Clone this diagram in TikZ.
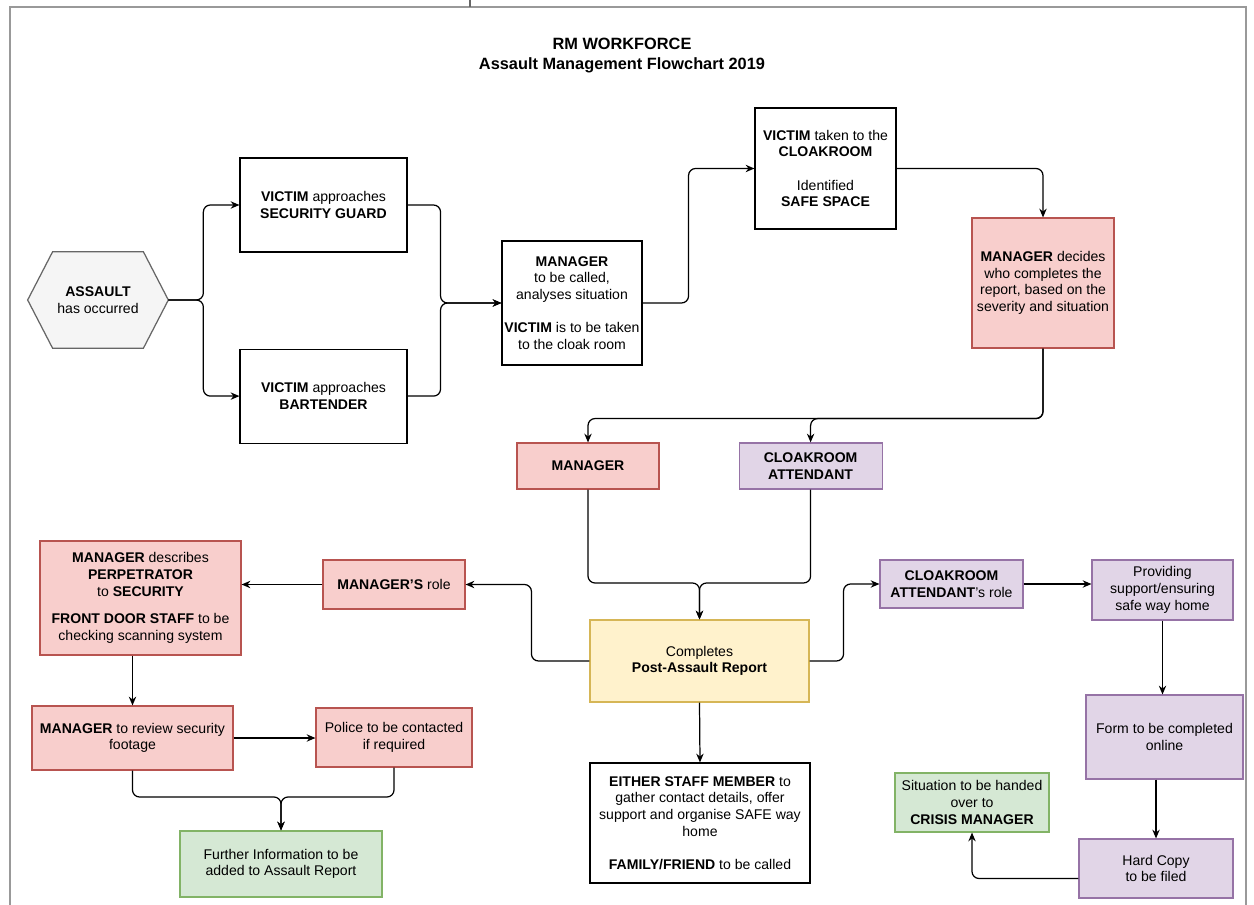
\documentclass[tikz,border=0pt]{standalone}
\usepackage{fontspec}
\setmainfont{Liberation Sans}
\usepackage{tikz}
\usetikzlibrary{arrows.meta, positioning, backgrounds}

\definecolor{pinkfill}{HTML}{F8CECC}
\definecolor{pinkline}{HTML}{B85450}
\definecolor{lilacfill}{HTML}{E1D5E7}
\definecolor{lilacline}{HTML}{9673A6}
\definecolor{yellowfill}{HTML}{FFF2CC}
\definecolor{yellowline}{HTML}{D6B656}
\definecolor{greenfill}{HTML}{D5E8D4}
\definecolor{greenline}{HTML}{82B366}
\definecolor{hexfill}{HTML}{F5F5F5}
\definecolor{hexline}{HTML}{666666}

\begin{document}
\begin{tikzpicture}[x=0.02cm, y=-0.02cm, >={Stealth[length=5pt,width=4.2pt]},
box/.style={
rectangle,
draw,
line width=0.65pt,
align=center,
inner xsep=1pt,
inner ysep=2pt,
font=\fontsize{8}{9.5}\selectfont
},
wh/.style 2 args={minimum width=#1cm, minimum height=#2cm},
pink box/.style={box, fill=pinkfill, draw=pinkline},
lilac box/.style={box, fill=lilacfill, draw=lilacline},
yellow box/.style={box, fill=yellowfill, draw=yellowline},
green box/.style={box, fill=greenfill, draw=greenline},
hex text/.style={align=center, minimum width=2.8cm, minimum height=1.92cm,
                font=\fontsize{8}{9.5}\selectfont},
link/.style={->, line width=0.7pt, rounded corners=4pt}
                ]

\useasboundingbox (0,0) rectangle (1254,905);

\node[font=\bfseries\fontsize{9.3}{11.4}\selectfont, align=center] (title) at (622,56) {RM WORKFORCE\\Assault Management Flowchart 2019};

\node[hex text] (assault) at (98,300) {\textbf{ASSAULT}\\has occurred};

\node[box, wh={3.34}{1.88}] (guard) at (323.5,205) {\textbf{VICTIM} approaches\\\textbf{SECURITY GUARD}};
\node[box, wh={3.34}{1.88}] (bartender) [below=1.92cm of guard] {\textbf{VICTIM} approaches\\\textbf{BARTENDER}};

\node[box, wh={2.8}{2.48}] (call) at (572,303) {\textbf{MANAGER}\\to be called,\\analyses situation\\[9.5pt]\textbf{VICTIM} is to be taken\\to the cloak room};
\node[box, wh={2.82}{2.42}] (cloak) at (825.5,168.5) {\textbf{VICTIM} taken to the\\\textbf{CLOAKROOM}\\[9.5pt]Identified\\\textbf{SAFE SPACE}};
\node[pink box, wh={2.84}{2.6}] (decides) at (1043,283) {\textbf{MANAGER} decides\\who completes the\\report, based on the\\severity and situation};

\node[pink box, wh={2.84}{0.92}] (mgr) at (588,466) {\textbf{MANAGER}};
\node[lilac box, wh={2.86}{0.92}] (attend) [right=1.58cm of mgr] {\textbf{CLOAKROOM}\\\textbf{ATTENDANT}};

\node[yellow box, wh={4.38}{1.64}] (report) at (699.5,661) {Completes\\\textbf{Post-Assault Report}};
\node[box, wh={4.4}{2.4}] (staff) at (700,823) {\textbf{EITHER STAFF MEMBER} to\\gather contact details, offer\\support and organise SAFE way\\home\\[9.5pt]\textbf{FAMILY/FRIEND} to be called};

\node[pink box, wh={2.84}{0.98}] (role) at (394,584.5) {\textbf{MANAGER'S} role};
\node[pink box, wh={4.02}{2.28}] (desc) at (140.5,598) {\textbf{MANAGER} describes\\\textbf{PERPETRATOR}\\to \textbf{SECURITY}\\[6pt]\textbf{FRONT DOOR STAFF} to be\\checking scanning system};
\node[pink box, wh={4.02}{1.28}] (review) at (132.5,738) {\textbf{MANAGER} to review security\\footage};
\node[pink box, wh={3.12}{1.18}] (police) at (394,737.5) {Police to be contacted\\if required};
\node[green box, wh={4.04}{1.32}] (further) at (281,864) {Further Information to be\\added to Assault Report};

\node[lilac box, wh={2.86}{0.96}] (attrole) at (951.5,584) {\textbf{CLOAKROOM}\\\textbf{ATTENDANT}'s role};
\node[lilac box, wh={2.82}{1.2}] (prov) at (1162.5,590) {Providing\\support/ensuring\\safe way home};
\node[lilac box, wh={3.14}{1.68}] (form) at (1164.5,737) {Form to be completed\\online};
\node[lilac box, wh={3.08}{1.18}] (hard) at (1156,868.5) {Hard Copy\\to be filed};
\node[green box, wh={3.08}{1.18}] (crisis) at (972,802.5) {Situation to be handed\\over to\\\textbf{CRISIS MANAGER}};

\coordinate (join) at (699.5,583);
\coordinate (merge) at (281,797);

\begin{scope}[on background layer]
\fill[white] (0,0) rectangle (1254,905);
\draw[black!40, line width=0.8pt] (10,905) -- (10,7) -- (1246,7) -- (1246,905);
\draw[black!60, line width=0.8pt] (470,0) -- (470,7);
\draw[hexline, fill=hexfill, line width=0.7pt] (assault.west) -- ([xshift=0.5cm]assault.north west) -- ([xshift=-0.5cm]assault.north east) -- (assault.east) -- ([xshift=-0.5cm]assault.south east) -- ([xshift=0.5cm]assault.south west) -- cycle;
\end{scope}

\draw[link] (assault.east) -- ++(35,0) |- (guard.west);
\draw[link] (assault.east) -- ++(35,0) |- (bartender.west);

\draw[link] (guard.east) -- ++(33,0) |- (call.west);
\draw[link] (bartender.east) -- ++(33,0) |- (call.west);

\draw[link] (call.east) -- ++(46,0) |- (cloak.west);
\draw[link] (cloak.east) -| (decides.north);

\draw[link] (decides.south) -- ++(0,70) -| (mgr.north);
\draw[link] (decides.south) -- ++(0,70) -| (attend.north);

\draw[link] (mgr.south) |- (join) -- (report.north);
\draw[link] (attend.south) |- (join) -- (report.north);

\draw[link] (report.south) -- (staff.north);

\draw[link] (report.west) -- ++(-58,0) |- (role.east);
\draw[link] (role.west) -- (role.west -| desc.east);
\draw[link] (review.north |- desc.south) -- (review.north);
\draw[link] (review.east) -- (review.east -| police.west);
\draw[link] (review.south) |- (merge) -- (further.north);
\draw[link] (police.south) |- (merge) -- (further.north);

\draw[link] (report.east) -- ++(34,0) |- (attrole.west);
\draw[link] (attrole.east) -- (attrole.east -| prov.west);
\draw[link] (prov.south) -- (prov.south |- form.north);
\draw[link] (hard.north |- form.south) -- (hard.north);
\draw[link] ([yshift=-5.7pt]hard.west) -| (crisis.south);

\end{tikzpicture}
\end{document}
